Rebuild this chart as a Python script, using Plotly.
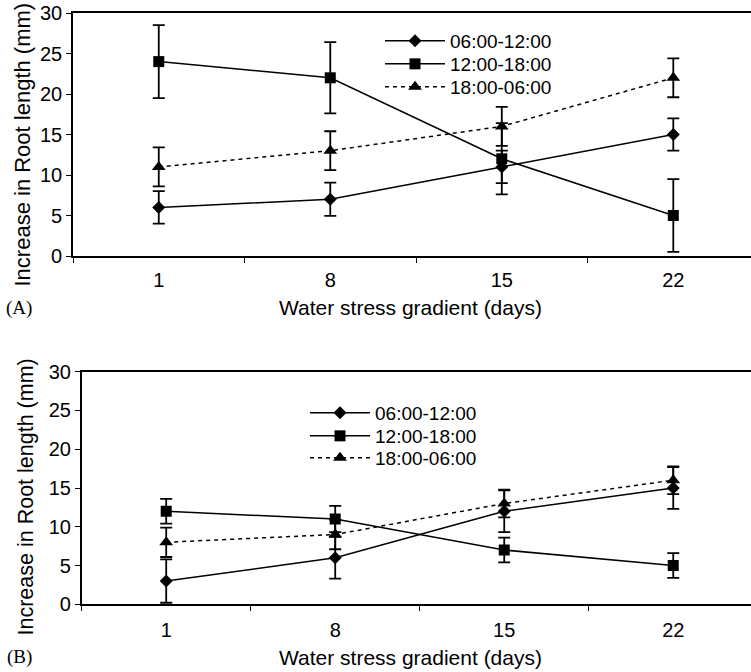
import plotly.graph_objects as go

days = ["1", "8", "15", "22"]
series_names = ["06:00-12:00", "12:00-18:00", "18:00-06:00"]

# Panel A
a_morning = [6, 7, 11, 15]
a_morning_err = [2, 2.05, 2, 2]
a_afternoon = [24, 22, 12, 5]
a_afternoon_err = [4.5, 4.4, 4.4, 4.5]
a_night = [11, 13, 16, 22]
a_night_err = [2.4, 2.4, 2.4, 2.4]

# Panel B
b_morning = [3, 6, 12, 15]
b_morning_err = [2.8, 2.7, 2.7, 2.7]
b_afternoon = [12, 11, 7, 5]
b_afternoon_err = [1.6, 1.7, 1.6, 1.6]
b_night = [8, 9, 13, 16]
b_night_err = [1.9, 1.9, 1.8, 1.8]

W, H = 751, 672
FONT = "Liberation Sans, Arial, sans-serif"
SERIF = "Liberation Serif, Times New Roman, serif"

styles = [
    dict(symbol="diamond", size=10, dash="solid"),
    dict(symbol="square", size=11, dash="solid"),
    dict(symbol="triangle-up", size=12, dash="4px,4px"),
]


def yfrac(px):
    return 1 - px / H


fig = go.Figure()

panels = [
    ("x", "y", ["legend", "legend2", "legend3"],
     [a_morning, a_afternoon, a_night], [a_morning_err, a_afternoon_err, a_night_err]),
    ("x2", "y2", ["legend4", "legend5", "legend6"],
     [b_morning, b_afternoon, b_night], [b_morning_err, b_afternoon_err, b_night_err]),
]

for xa, ya, legs, vals, errs in panels:
    for name, v, e, st, leg in zip(series_names, vals, errs, styles, legs):
        fig.add_trace(go.Scatter(
            x=days, y=v, name=name, mode="lines+markers",
            xaxis=xa, yaxis=ya, legend=leg,
            line=dict(color="black", width=1.5, dash=st["dash"]),
            marker=dict(symbol=st["symbol"], size=st["size"], color="black",
                        line=dict(width=0)),
            error_y=dict(type="data", array=e, visible=True, color="black",
                         thickness=1.8, width=6),
        ))

xcommon = dict(type="category", categoryorder="array", categoryarray=days,
               tickson="boundaries", ticks="outside", ticklen=5, tickwidth=1.2,
               tickcolor="black", showline=True, linecolor="black", linewidth=1.6,
               mirror=True, showgrid=False, zeroline=False,
               tickfont=dict(family=FONT, size=20, color="black"))
ycommon = dict(range=[0, 30], dtick=5, ticks="outside", ticklen=5, tickwidth=1.2,
               tickcolor="black", showline=True, linecolor="black", linewidth=1.6,
               showgrid=False, zeroline=False,
               tickfont=dict(family=FONT, size=20, color="black"))

legfont = dict(family=FONT, size=19, color="black")


def legend_at(xpx, toppx):
    return dict(x=xpx / W, y=yfrac(toppx), xanchor="left", yanchor="top",
                bgcolor="rgba(0,0,0,0)", itemwidth=60, font=legfont)


fig.update_layout(
    width=W, height=H, autosize=False,
    margin=dict(l=0, r=0, t=0, b=0, autoexpand=False),
    paper_bgcolor="white", plot_bgcolor="white",
    xaxis=dict(xcommon, domain=[73 / W, 1], range=[-0.5, 3.453], anchor="y",
               ticklabelstandoff=5),
    yaxis=dict(ycommon, domain=[yfrac(256), yfrac(13)], anchor="x"),
    xaxis2=dict(xcommon, domain=[81.7 / W, 1], range=[-0.5, 3.46], anchor="y2",
                ticklabelstandoff=7),
    yaxis2=dict(ycommon, domain=[yfrac(604.3), yfrac(371.7)], anchor="x2"),
    legend=legend_at(380, 22),
    legend2=legend_at(380, 45),
    legend3=legend_at(380, 68),
    legend4=legend_at(305, 394),
    legend5=legend_at(305, 417),
    legend6=legend_at(305, 439),
    showlegend=True,
)

ann = [
    dict(text="Increase in Root length (mm)", x=22 / W, y=yfrac(144.5), textangle=-90,
         font=dict(family=FONT, size=22, color="black")),
    dict(text="Increase in Root length (mm)", x=25 / W, y=yfrac(497.5), textangle=-90,
         font=dict(family=FONT, size=21.5, color="black")),
    dict(text="Water stress gradient (days)", x=410 / W, y=yfrac(308),
         font=dict(family=FONT, size=21, color="black")),
    dict(text="Water stress gradient (days)", x=410 / W, y=yfrac(657),
         font=dict(family=FONT, size=21, color="black")),
    dict(text="(A)", x=19 / W, y=yfrac(308), font=dict(family=SERIF, size=19, color="black")),
    dict(text="(B)", x=19 / W, y=yfrac(657), font=dict(family=SERIF, size=19, color="black")),
]
for a in ann:
    a.update(xref="paper", yref="paper", showarrow=False, xanchor="center", yanchor="middle")
    fig.add_annotation(**a)

fig.write_html(
    "out.html",
    config={"displayModeBar": False, "responsive": False},
    post_script="document.body.style.margin='0';document.body.style.overflow='hidden';",
)
